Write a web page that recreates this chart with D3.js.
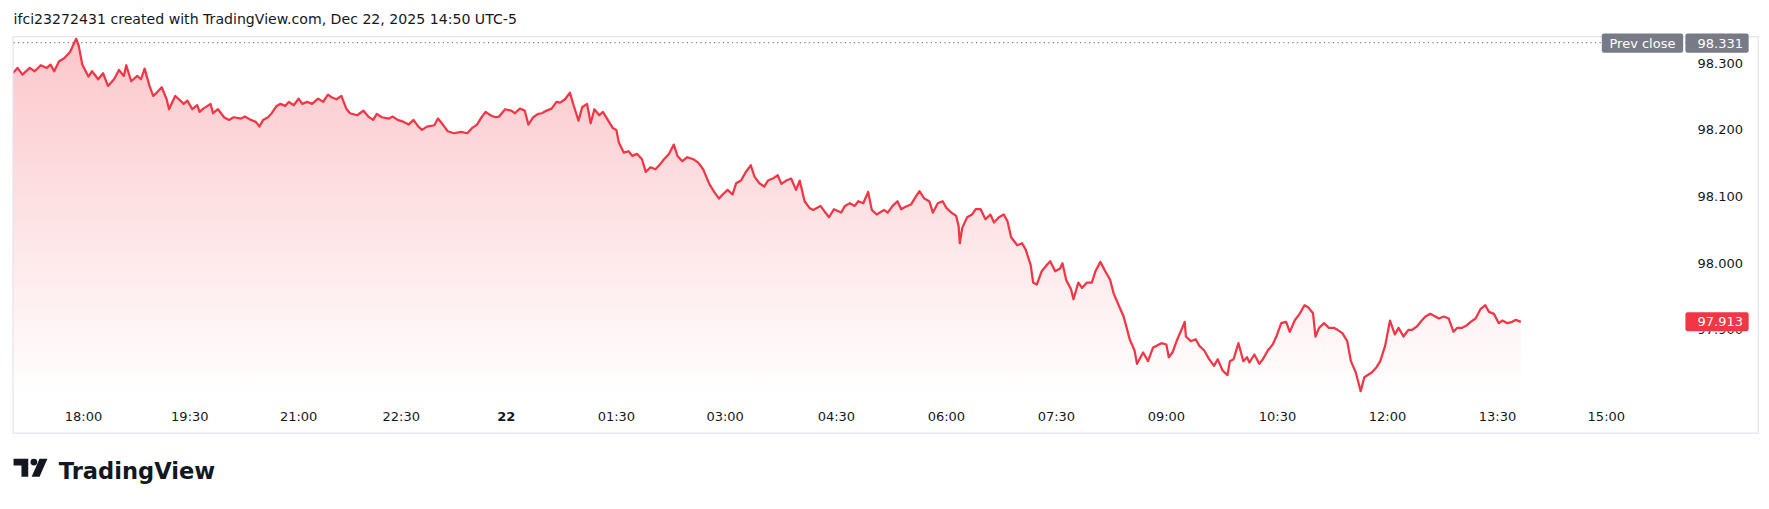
<!DOCTYPE html>
<html>
<head>
<meta charset="utf-8">
<script src="https://cdn.jsdelivr.net/npm/d3@7"></script>
<style>
  body { margin: 0; background: #fff; }
  svg text { font-family: "DejaVu Sans", Verdana, sans-serif; }
</style>
</head>
<body>
<svg id="chart" width="1769" height="509"></svg>
<script>
// bar index (≈ minutes of trading) and price
var bars = [2,6,10,16,20,25,30,33,36,40,44,49,54,56,59,64,67,72,76,80,85,89,93,95,99,104,107,110,114,117,120,124,128,130,135,138,142,145,149,153,155,158,164,166,170,175,179,183,189,192,197,201,204,207,211,214,218,221,225,228,232,236,239,243,247,252,256,260,263,267,271,275,278,284,289,293,297,300,304,310,313,317,322,326,330,334,337,341,347,350,354,358,363,369,374,378,382,386,389,393,397,400,405,410,413,417,421,424,428,432,435,439,443,447,450,454,458,461,465,468,472,475,478,482,485,489,493,496,498,502,506,509,513,517,520,524,528,532,535,539,543,546,550,554,559,563,567,572,576,580,583,587,591,594,598,602,606,609,613,617,620,624,628,631,635,639,643,646,650,654,657,663,667,670,674,680,683,687,691,694,698,702,705,709,715,718,722,726,729,733,737,741,744,748,752,755,759,763,766,770,774,776,777,779,783,787,790,794,798,802,805,809,813,816,819,824,828,831,835,837,840,844,848,851,855,859,861,864,868,870,874,877,881,885,888,892,896,900,903,907,911,914,916,920,922,924,927,931,935,938,942,946,948,951,955,959,961,962,966,970,973,977,981,985,988,992,996,998,1001,1005,1009,1012,1014,1018,1022,1025,1029,1033,1036,1040,1044,1047,1051,1055,1059,1062,1066,1068,1071,1075,1079,1083,1086,1090,1094,1097,1101,1105,1108,1114,1118,1121,1125,1129,1133,1136,1140,1144,1147,1151,1155,1158,1162,1166,1169,1173,1177,1181,1184,1188,1192,1195,1199,1203,1207,1210,1214,1218,1221,1225,1229,1232,1236];
var prices = [98.285,98.293,98.283,98.293,98.288,98.297,98.293,98.298,98.288,98.303,98.307,98.317,98.337,98.327,98.298,98.280,98.288,98.276,98.285,98.266,98.276,98.290,98.281,98.297,98.273,98.281,98.276,98.292,98.266,98.251,98.256,98.264,98.246,98.231,98.251,98.246,98.239,98.244,98.231,98.237,98.227,98.232,98.239,98.225,98.231,98.219,98.215,98.219,98.217,98.220,98.215,98.212,98.205,98.215,98.219,98.225,98.236,98.239,98.236,98.242,98.237,98.247,98.239,98.242,98.239,98.247,98.242,98.253,98.249,98.246,98.251,98.232,98.225,98.222,98.229,98.220,98.215,98.224,98.219,98.217,98.220,98.215,98.212,98.208,98.215,98.205,98.200,98.205,98.207,98.217,98.208,98.198,98.195,98.197,98.195,98.203,98.208,98.220,98.227,98.222,98.219,98.220,98.231,98.229,98.225,98.232,98.229,98.208,98.219,98.224,98.225,98.229,98.232,98.242,98.241,98.246,98.256,98.237,98.214,98.234,98.239,98.210,98.231,98.222,98.227,98.215,98.203,98.200,98.181,98.166,98.168,98.161,98.164,98.156,98.137,98.144,98.141,98.149,98.156,98.164,98.178,98.161,98.153,98.159,98.156,98.151,98.141,98.119,98.107,98.097,98.103,98.110,98.103,98.120,98.124,98.137,98.147,98.130,98.120,98.115,98.124,98.127,98.132,98.119,98.124,98.127,98.110,98.124,98.093,98.083,98.080,98.086,98.076,98.069,98.081,98.076,98.086,98.090,98.086,98.093,98.090,98.107,98.080,98.073,98.080,98.076,98.086,98.093,98.081,98.085,98.088,98.100,98.108,98.097,98.093,98.076,98.090,98.093,98.083,98.076,98.071,98.056,98.030,98.053,98.069,98.073,98.081,98.081,98.066,98.073,98.061,98.069,98.073,98.063,98.039,98.027,98.030,98.020,97.997,97.971,97.968,97.988,97.997,98.003,97.988,97.992,98.000,97.975,97.961,97.946,97.971,97.963,97.971,97.971,97.988,98.002,97.988,97.975,97.954,97.937,97.920,97.900,97.886,97.869,97.849,97.856,97.866,97.853,97.873,97.876,97.880,97.878,97.859,97.866,97.886,97.903,97.912,97.890,97.883,97.886,97.876,97.869,97.856,97.846,97.856,97.839,97.832,97.853,97.856,97.880,97.853,97.859,97.851,97.863,97.849,97.856,97.869,97.878,97.890,97.910,97.912,97.897,97.914,97.924,97.937,97.934,97.925,97.890,97.903,97.910,97.903,97.903,97.900,97.895,97.883,97.853,97.836,97.808,97.829,97.836,97.844,97.853,97.876,97.914,97.893,97.903,97.890,97.900,97.900,97.905,97.914,97.920,97.924,97.920,97.917,97.920,97.917,97.897,97.903,97.903,97.907,97.912,97.917,97.931,97.937,97.927,97.924,97.910,97.914,97.910,97.912,97.915,97.912];
var tickBars = [60,147,236,320,406,496,585,676,766,856,946,1037,1127,1217,1306];
var tickLabels = ["18:00","19:30","21:00","22:30","22","01:30","03:00","04:30","06:00","07:30","09:00","10:30","12:00","13:30","15:00"];
var priceTicks = [98.0, 98.1, 98.2, 98.3];
var hiddenTick = 97.9; // sits under the last-price badge
var prevClose = 98.331;
var lastPrice = 97.913;

var svg = d3.select("#chart");
// everything below is laid out on a 1566-wide grid, then scaled up
var g = svg.append("g").attr("transform", "scale(" + (1769 / 1566) + ")");

var x = d3.scaleLinear().domain([0, 1306]).range([9, 1422]);
var y = d3.scaleLinear().domain([97.9, 98.3]).range([292, 56]);

g.append("text").attr("x", 12).attr("y", 21).attr("font-size", 12.5).attr("fill", "#131722")
  .text("ifci23272431 created with TradingView.com, Dec 22, 2025 14:50 UTC-5");

g.append("rect").attr("x", 11.5).attr("y", 32.5).attr("width", 1545).attr("height", 351)
  .attr("fill", "#fff").attr("stroke", "#e0e3eb");

var defs = svg.append("defs");
var grad = defs.append("linearGradient").attr("id", "fillGrad").attr("x1", 0).attr("y1", 0).attr("x2", 0).attr("y2", 1);
grad.append("stop").attr("offset", "0%").attr("stop-color", "#f23645").attr("stop-opacity", 0.28);
grad.append("stop").attr("offset", "100%").attr("stop-color", "#f23645").attr("stop-opacity", 0.0);
defs.append("clipPath").attr("id", "clip").append("rect").attr("x", 12).attr("y", 33).attr("width", 1544).attr("height", 315);

var data = bars.map(function(b, i) { return [b, prices[i]]; });

g.append("path").datum(data).attr("clip-path", "url(#clip)")
  .attr("fill", "url(#fillGrad)")
  .attr("d", d3.area().x(function(d) { return x(d[0]); }).y0(350).y1(function(d) { return y(d[1]); }));

// prev close dotted line
g.append("line").attr("x1", 12).attr("x2", 1548).attr("y1", y(prevClose)).attr("y2", y(prevClose))
  .attr("stroke", "#787b86").attr("stroke-width", 1).attr("stroke-dasharray", "1,3");

g.append("path").datum(data).attr("clip-path", "url(#clip)")
  .attr("fill", "none").attr("stroke", "#f23645").attr("stroke-width", 2).attr("stroke-linejoin", "round")
  .attr("d", d3.line().x(function(d) { return x(d[0]); }).y(function(d) { return y(d[1]); }));

// price scale labels
g.selectAll(".pt").data(priceTicks).enter().append("text")
  .attr("x", 1543).attr("y", function(d) { return y(d) + 4; }).attr("text-anchor", "end")
  .attr("font-size", 11.5).attr("fill", "#131722").text(function(d) { return d.toFixed(3); });
// only the lower part of this one peeks out below the badge
g.append("text").attr("x", 1543).attr("y", y(hiddenTick) + 4).attr("text-anchor", "end")
  .attr("font-size", 11.5).attr("fill", "#131722")
  .attr("clip-path", "url(#belowBadge)").text(hiddenTick.toFixed(3));
defs.append("clipPath").attr("id", "belowBadge").append("rect")
  .attr("x", 1490).attr("y", y(lastPrice) + 9).attr("width", 70).attr("height", 20);

// time labels
g.selectAll(".tt").data(tickBars).enter().append("text")
  .attr("x", function(d) { return x(d); }).attr("y", 373).attr("text-anchor", "middle")
  .attr("font-size", 11.5).attr("fill", "#131722")
  .attr("font-weight", function(d, i) { return tickLabels[i] == "22" ? "bold" : "normal"; })
  .text(function(d, i) { return tickLabels[i]; });

// prev close badge
var py = y(prevClose);
g.append("rect").attr("x", 1418).attr("y", py - 8).attr("width", 72).attr("height", 17).attr("rx", 2).attr("fill", "#787b86");
g.append("text").attr("x", 1454).attr("y", py + 4.5).attr("text-anchor", "middle").attr("font-size", 11.5).attr("fill", "#fff").text("Prev close");
g.append("rect").attr("x", 1492).attr("y", py - 8).attr("width", 56).attr("height", 17).attr("rx", 2).attr("fill", "#787b86");
g.append("text").attr("x", 1543).attr("y", py + 4.5).attr("text-anchor", "end").attr("font-size", 11.5).attr("fill", "#fff").text(prevClose.toFixed(3));

// last price badge
var ly = y(lastPrice);
g.append("rect").attr("x", 1492).attr("y", ly - 8).attr("width", 56).attr("height", 17).attr("rx", 2).attr("fill", "#f23645");
g.append("text").attr("x", 1543).attr("y", ly + 4.5).attr("text-anchor", "end").attr("font-size", 11.5).attr("fill", "#fff").text(lastPrice.toFixed(3));

// TradingView logo
var logo = g.append("g").attr("transform", "translate(12,406)");
logo.append("path").attr("d", "M0,0 H13 V16 H7 V6 H0 Z").attr("fill", "#131722");
logo.append("circle").attr("cx", 18).attr("cy", 3).attr("r", 3).attr("fill", "#131722");
logo.append("path").attr("d", "M23,0 H30 L23,16 H16 Z").attr("fill", "#131722");
g.append("text").attr("x", 52).attr("y", 424).attr("font-size", 20).attr("font-weight", "bold")
  .attr("font-family", "Inter, 'Liberation Sans', sans-serif")
  .attr("fill", "#131722").text("TradingView");
</script>
</body>
</html>
